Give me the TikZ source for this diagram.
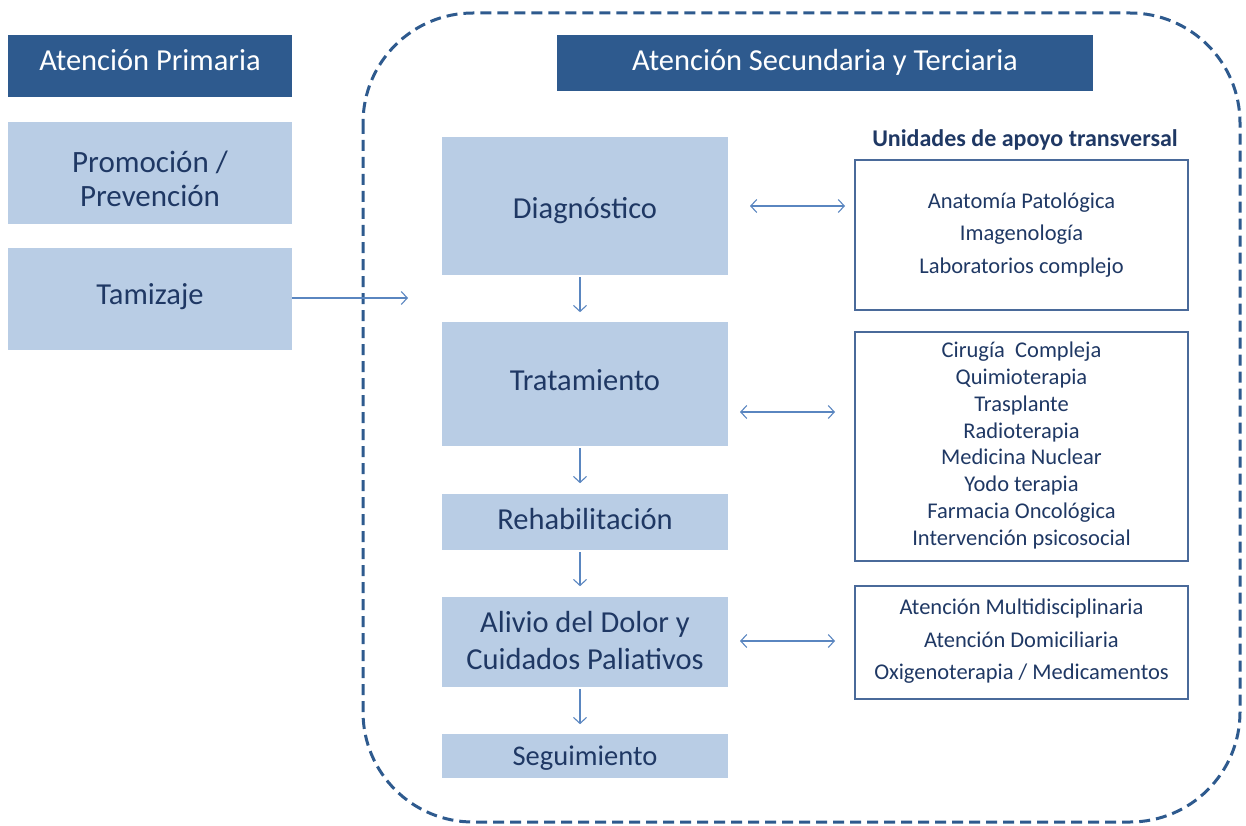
\documentclass[tikz,border=0pt]{standalone}
\usepackage{fontspec}
\setmainfont{Carlito}
\usetikzlibrary{arrows.meta}
\definecolor{dkblue}{HTML}{2E5A8E}
\definecolor{ltblue}{HTML}{B9CDE5}
\definecolor{txtblue}{HTML}{1F3864}
\definecolor{arrblue}{HTML}{5A86C0}
\definecolor{boxline}{HTML}{4A6A9A}
\tikzset{
  hdr/.style={fill=dkblue, inner sep=0pt},
  hdrtxt/.style={text=white, inner sep=0pt, font=\fontsize{30.5}{34}\selectfont},
  stage/.style={fill=ltblue, inner sep=0pt},
  stagetxt/.style={text=txtblue, inner sep=0pt, align=center, font=\fontsize{30.5}{34}\selectfont},
  side/.style={draw=boxline, line width=1.3pt, inner sep=0pt},
  sidetxt/.style={text=txtblue, align=center},
  arr/.style={draw=arrblue, line width=1.1pt, -{Straight Barb[length=6pt,width=13pt]}},
  darr/.style={draw=arrblue, line width=1.1pt, {Straight Barb[length=6pt,width=13pt]}-{Straight Barb[length=6pt,width=13pt]}}
}
\begin{document}
\begin{tikzpicture}[x=1pt,y=-1pt]
\useasboundingbox (0,0) rectangle (1246,826);
% dashed outer region
\draw[dkblue, line width=3pt, dash pattern=on 11pt off 6pt, rounded corners=110pt] (363,13) rectangle (1240,822);
% headers
\node[hdr, minimum width=284pt, minimum height=62pt] (ap) at (150,66) {};
\node[hdrtxt] (apt) at ([yshift=6pt]ap.center) {Atención Primaria};
\node[hdr, minimum width=536pt, minimum height=56pt] (as) at (825,63) {};
\node[hdrtxt] (ast) at ([yshift=1pt]as.center) {Atención Secundaria y Terciaria};
% left stages
\node[stage, minimum width=284pt, minimum height=102pt] (pp) at (150,173) {};
\node[stagetxt, font=\fontsize{31}{34}\selectfont] (ppt) at ([yshift=-6pt]pp.center) {Promoción /\\Prevención};
\node[stage, minimum width=284pt, minimum height=102pt] (tz) at (150,299) {};
\node[stagetxt] (tzt) at ([yshift=2pt]tz.center) {Tamizaje};
% central stages
\node[stage, minimum width=286pt, minimum height=138pt] (dg) at (585,206) {};
\node[stagetxt] (dgt) at ([yshift=-5pt]dg.center) {Diagnóstico};
\node[stage, minimum width=286pt, minimum height=124pt] (tr) at (585,384) {};
\node[stagetxt] (trt) at ([yshift=4pt]tr.center) {Tratamiento};
\node[stage, minimum width=286pt, minimum height=56pt] (rh) at (585,522) {};
\node[stagetxt] (rht) at ([yshift=3pt]rh.center) {Rehabilitación};
\node[stage, minimum width=286pt, minimum height=90pt] (al) at (585,642) {};
\node[stagetxt, font=\fontsize{30.5}{37}\selectfont] (alt) at ([yshift=1pt]al.center) {Alivio del Dolor y\\Cuidados Paliativos};
\node[stage, minimum width=286pt, minimum height=44pt] (sg) at (585,756) {};
\node[stagetxt, font=\fontsize{28.5}{32}\selectfont] (sgt) at ([yshift=-2pt]sg.center) {Seguimiento};
% side title
\node[text=txtblue, font=\bfseries\fontsize{24}{28}\selectfont] (ut) at (1025,140) {Unidades de apoyo transversal};
% side boxes
\node[side, minimum width=333pt, minimum height=150pt] (b1) at (1021.5,235) {};
\node[sidetxt, font=\fontsize{22.5}{32.5}\selectfont] (b1t) at (b1.center) {Anatomía Patológica\\Imagenología\\Laboratorios complejo};
\node[side, minimum width=333pt, minimum height=229pt] (b2) at (1021.5,446.5) {};
\node[sidetxt, font=\fontsize{22.5}{26.85}\selectfont] (b2t) at ([yshift=1pt]b2.center) {Cirugía~ Compleja\\Quimioterapia\\Trasplante\\Radioterapia\\Medicina Nuclear\\Yodo terapia\\Farmacia Oncológica\\Intervención psicosocial};
\node[side, minimum width=333pt, minimum height=113pt] (b3) at (1021.5,642.5) {};
\node[sidetxt, font=\fontsize{22.5}{32.5}\selectfont] (b3t) at ([yshift=1pt]b3.center) {Atención Multidisciplinaria\\Atención Domiciliaria\\Oxigenoterapia / Medicamentos};
% arrows
\coordinate (tzend) at (408,298);
\draw[arr] (tz.east |- tzend) -- (tzend);
\coordinate (ax) at (580,0);
\draw[arr] ([yshift=-2pt]dg.south -| ax) -- ++(0,35);
\draw[arr] ([yshift=-2pt]tr.south -| ax) -- ++(0,35);
\draw[arr] ([yshift=-2pt]rh.south -| ax) -- ++(0,34);
\draw[arr] ([yshift=-2pt]al.south -| ax) -- ++(0,35);
\coordinate (d1a) at (750,206); \coordinate (d1b) at (845,206);
\draw[darr] (d1a) -- (d1b);
\coordinate (d2a) at (740,412); \coordinate (d2b) at (835,412);
\draw[darr] (d2a) -- (d2b);
\coordinate (d3a) at (740,641); \coordinate (d3b) at (835,641);
\draw[darr] (d3a) -- (d3b);
\end{tikzpicture}
\end{document}
